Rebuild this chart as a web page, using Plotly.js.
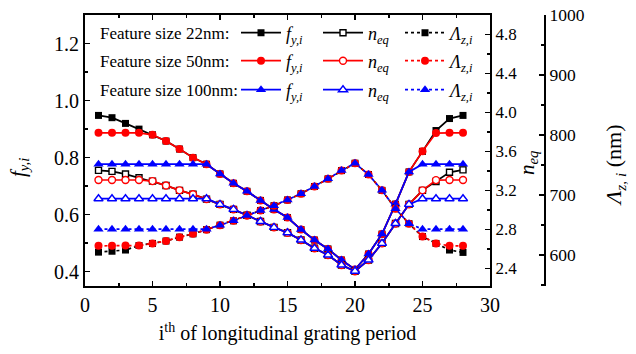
<!DOCTYPE html>
<html>
<head>
<meta charset="utf-8">
<script src="https://cdn.plot.ly/plotly-3.0.1.min.js"></script>
<style>html,body{margin:0;padding:0;background:#fff;}#chart{width:636px;height:354px;}</style>
</head>
<body>
<div id="chart"></div>
<script>
// ---- data ----
const period = [1,2,3,4,5,6,7,8,9,10,11,12,13,14,15,16,17,18,19,20,21,22,23,24,25,26,27,28];

const fy22  = [0.948,0.940,0.920,0.900,0.880,0.858,0.830,0.800,0.777,0.743,0.710,0.682,0.650,0.618,0.590,0.548,0.511,0.480,0.441,0.408,0.462,0.532,0.637,0.750,0.822,0.895,0.937,0.948];
const fy50  = [0.887,0.887,0.887,0.887,0.880,0.858,0.830,0.800,0.777,0.743,0.710,0.682,0.650,0.618,0.590,0.548,0.511,0.480,0.441,0.408,0.462,0.532,0.637,0.750,0.822,0.886,0.887,0.887];
const fy100 = [0.777,0.777,0.777,0.777,0.777,0.777,0.777,0.777,0.777,0.743,0.710,0.682,0.650,0.618,0.590,0.548,0.511,0.480,0.441,0.408,0.462,0.532,0.637,0.750,0.777,0.777,0.777,0.777];

const neq22  = [3.405,3.395,3.367,3.330,3.295,3.250,3.200,3.160,3.110,3.056,3.005,2.944,2.880,2.820,2.765,2.690,2.605,2.536,2.434,2.370,2.485,2.656,2.860,3.056,3.200,3.290,3.385,3.410];
const neq50  = [3.306,3.306,3.306,3.306,3.295,3.250,3.200,3.160,3.110,3.056,3.005,2.944,2.880,2.820,2.765,2.690,2.605,2.536,2.434,2.370,2.485,2.656,2.860,3.056,3.200,3.305,3.306,3.306];
const neq100 = [3.114,3.114,3.114,3.114,3.114,3.114,3.114,3.114,3.114,3.056,3.005,2.944,2.880,2.820,2.765,2.690,2.605,2.536,2.434,2.370,2.485,2.656,2.860,3.056,3.114,3.114,3.114,3.114];

const lam22  = [604.5,606,608,615.5,619,623,629.5,635,642,649.5,656.7,665.5,674,682,691.5,702,714,726.7,740.5,752.8,734,707.5,677,652,630.5,619,608,604];
const lam50  = [615,615,615.5,615.5,619,623,629.5,635,642,649.5,656.7,665.5,674,682,691.5,702,714,726.7,740.5,752.8,734,707.5,677,652,630.5,619,615,615];
const lam100 = [642.8,642.8,642.8,642.8,642.8,642.8,642.8,642.8,642.8,649.5,656.7,665.5,674,682,691.5,702,714,726.7,740.5,752.8,734,707.5,677,652,642.8,642.8,642.8,642.8];

const groupLabels = ['Feature size 22nm:', 'Feature size 50nm:', 'Feature size 100nm:'];
const colors = ['#000000', '#ff0000', '#0000ff'];
const symbols = ['square', 'circle', 'triangle-up'];
const symSize = [7, 8, 9];
const fyName  = '<i>f</i><sub><i>y,i</i></sub>';
const neqName = '<i>n</i><sub><i>eq</i></sub>';
const lamName = '<i>Λ</i><sub><i>z,i</i></sub>';

const fySets  = [fy22, fy50, fy100];
const neqSets = [neq22, neq50, neq100];
const lamSets = [lam22, lam50, lam100];
const legends = ['legend', 'legend2', 'legend3'];

const traces = [];
for (let g = 0; g < 3; g++) {
  const lw = 1.7;
  traces.push({
    x: period, y: fySets[g], yaxis: 'y', type: 'scatter', mode: 'lines+markers',
    name: fyName, legend: legends[g],
    line: {color: colors[g], width: lw},
    marker: {symbol: symbols[g], size: symSize[g], color: colors[g], line: {width: 0}}
  });
  traces.push({
    x: period, y: neqSets[g], yaxis: 'y2', type: 'scatter', mode: 'lines+markers',
    name: neqName, legend: legends[g],
    line: {color: colors[g], width: lw},
    marker: {symbol: symbols[g], size: symSize[g] - 1, color: '#ffffff', line: {color: colors[g], width: 1.4}}
  });
  traces.push({
    x: period, y: lamSets[g], yaxis: 'y3', type: 'scatter', mode: 'lines+markers',
    name: lamName, legend: legends[g],
    line: {color: colors[g], width: lw, dash: 'dot'},
    marker: {symbol: symbols[g], size: symSize[g], color: colors[g], line: {width: 0}}
  });
}

const FONT = 'Liberation Serif';
const L = 85, R = 91, T = 15, B = 68;
const W = 636, H = 354;
const pw = W - L - R, ph = H - T - B;
const px2x = p => (p - L) / pw;
const px2y = p => (H - B - p) / ph;

function legendAt(rowY) {
  return {
    orientation: 'h', x: px2x(236), xanchor: 'left', y: px2y(rowY), yanchor: 'middle',
    bgcolor: 'rgba(0,0,0,0)', borderwidth: 0,
    font: {family: FONT, size: 18, color: '#000'},
    entrywidth: 27, entrywidthmode: 'pixels', itemwidth: 40,
    traceorder: 'normal', tracegroupgap: 0
  };
}

function axisBase(fontSize) {
  return {
    showline: true, linecolor: '#000', linewidth: 2,
    ticks: 'inside', ticklen: 5, tickwidth: 1.5, tickcolor: '#000',
    showgrid: false, zeroline: false,
    tickfont: {family: FONT, size: fontSize, color: '#000'}
  };
}

const annotations = [];
const rowYs = [33, 61, 90];
for (let g = 0; g < 3; g++) {
  annotations.push({
    xref: 'paper', yref: 'paper', x: px2x(98), y: px2y(rowYs[g]), xanchor: 'left', yanchor: 'middle',
    text: groupLabels[g], showarrow: false, font: {family: FONT, size: 17, color: '#000'}
  });
}
annotations.push({
  xref: 'paper', yref: 'paper', x: px2x(19), y: px2y(168), xanchor: 'center', yanchor: 'middle',
  textangle: -90, text: fyName, showarrow: false, font: {family: FONT, size: 21, color: '#000'}
});
annotations.push({
  xref: 'paper', yref: 'paper', x: px2x(528), y: px2y(163), xanchor: 'center', yanchor: 'middle',
  textangle: -90, text: neqName, showarrow: false, font: {family: FONT, size: 21, color: '#000'}
});
annotations.push({
  xref: 'paper', yref: 'paper', x: px2x(615), y: px2y(165), xanchor: 'center', yanchor: 'middle',
  textangle: -90, text: '<i>Λ</i><sub><i>z</i>, <i>i</i></sub> (nm)', showarrow: false, font: {family: FONT, size: 22, color: '#000'}
});

const layout = {
  width: W, height: H,
  margin: {l: L, r: R, t: T, b: B, pad: 0},
  paper_bgcolor: '#fff', plot_bgcolor: '#fff',
  font: {family: FONT, color: '#000'},
  xaxis: Object.assign(axisBase(20), {
    domain: [0, 405 / pw], range: [0, 30], tick0: 0, dtick: 5, mirror: 'ticks',
    minor: {dtick: 2.5, ticks: 'inside', ticklen: 3, tickwidth: 1.5, tickcolor: '#000'},
    title: {text: 'i<sup>th</sup> of longitudinal grating period', font: {family: FONT, size: 20, color: '#000'}, standoff: 11}
  }),
  yaxis: Object.assign(axisBase(20), {
    range: [0.35, 1.3], tick0: 0.4, dtick: 0.2, tickformat: '.1f',
    minor: {dtick: 0.1, ticks: 'inside', ticklen: 3, tickwidth: 1.5, tickcolor: '#000'}
  }),
  yaxis2: Object.assign(axisBase(17), {
    overlaying: 'y', side: 'right', anchor: 'x',
    range: [2.218, 5.0], tick0: 2.4, dtick: 0.4, tickformat: '.1f',
    minor: {dtick: 0.2, ticks: 'inside', ticklen: 3, tickwidth: 1.5, tickcolor: '#000'}
  }),
  yaxis3: Object.assign(axisBase(17.5), {
    overlaying: 'y', side: 'right', anchor: 'free', position: 1,
    range: [548, 1000], tick0: 600, dtick: 100,
    minor: {dtick: 50, ticks: 'inside', ticklen: 3, tickwidth: 1.5, tickcolor: '#000'}
  }),
  showlegend: true,
  legend: legendAt(33),
  legend2: legendAt(61),
  legend3: legendAt(90),
  annotations: annotations
};

Plotly.newPlot('chart', traces, layout, {displayModeBar: false, staticPlot: true});
</script>
</body>
</html>
